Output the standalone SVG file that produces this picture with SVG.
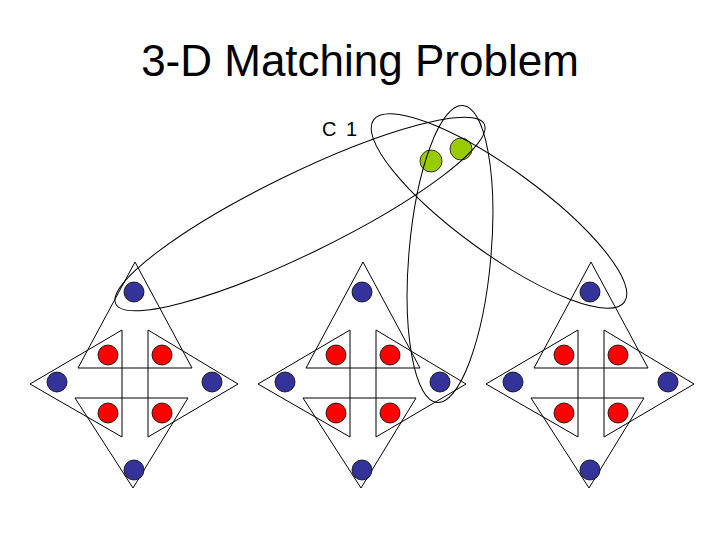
<svg xmlns="http://www.w3.org/2000/svg" width="720" height="540" viewBox="0 0 720 540">
<style>
.t{fill:none;stroke:#000;stroke-width:1}
.b{fill:#333399;stroke:#000;stroke-width:.8}
.r{fill:#ff0000;stroke:#000;stroke-width:.8}
.g{fill:#99cc00;stroke:#333;stroke-width:1}
.e{fill:none;stroke:#000;stroke-width:1}
</style>
<rect width="720" height="540" fill="#fff"/>
<text x="360" y="76" font-family="Liberation Sans, Arial, sans-serif" font-size="44" text-anchor="middle">3-D Matching Problem</text>
<defs>
<g id="gad">
<polygon class="t" points="135,262 78,368 192,368"/>
<polygon class="t" points="30,384 122,330 122,437"/>
<polygon class="t" points="238,384 148,330 148,437"/>
<polygon class="t" points="133,488 75,398 188,398"/>
<circle class="b" cx="134" cy="292" r="10"/>
<circle class="b" cx="57" cy="382" r="10"/>
<circle class="b" cx="212" cy="382" r="10"/>
<circle class="b" cx="134" cy="470" r="10"/>
<circle class="r" cx="108" cy="355" r="10"/>
<circle class="r" cx="162" cy="355" r="10"/>
<circle class="r" cx="108" cy="413" r="10"/>
<circle class="r" cx="162" cy="413" r="10"/>
</g>
</defs>
<g id="gadget1"><use href="#gad"/></g>
<g id="gadget2"><use href="#gad" transform="translate(228,0)"/></g>
<g id="gadget3"><use href="#gad" transform="translate(456,0)"/></g>
<g id="green">
<circle class="g" cx="431" cy="161" r="11"/>
<circle class="g" cx="461" cy="149" r="11"/>
</g>
<g id="connectors">
<ellipse class="e" cx="300" cy="214" rx="205" ry="40" transform="rotate(-26 300 214)"/>
<ellipse class="e" cx="450" cy="254" rx="41" ry="149" transform="rotate(5 450 254)"/>
<ellipse class="e" cx="499" cy="211" rx="155" ry="42" transform="rotate(36 499 211)"/>
</g>
<text x="322" y="136" font-family="Liberation Sans, Arial, sans-serif" font-size="20" letter-spacing="2">C 1</text>
</svg>
